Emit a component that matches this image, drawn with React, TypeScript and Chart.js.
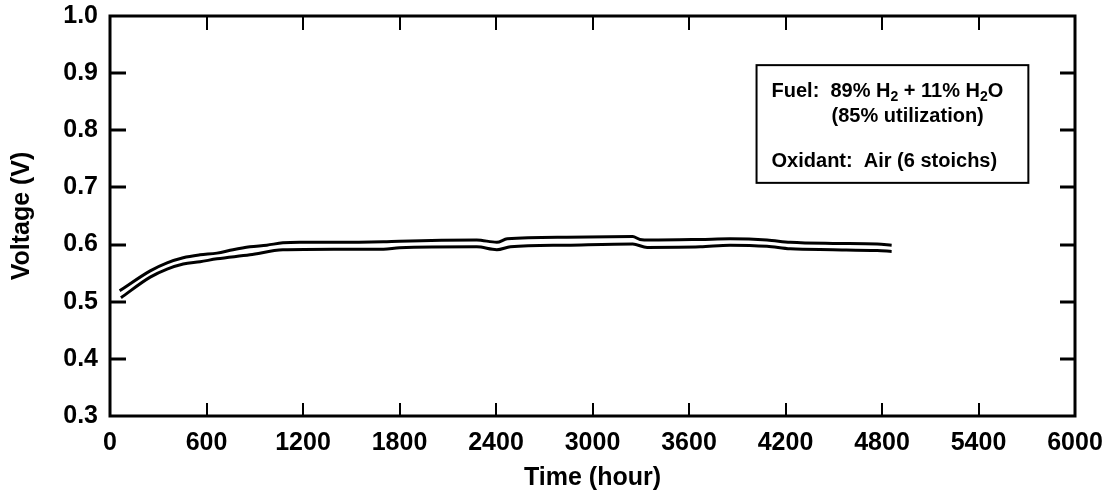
import React, { useEffect, useRef } from "react";
import { Chart, registerables } from "chart.js";

Chart.register(...registerables);

// ---- Data ----
const xTickLabels = ["0", "600", "1200", "1800", "2400", "3000", "3600", "4200", "4800", "5400", "6000"];
const yTickLabels = ["0.3", "0.4", "0.5", "0.6", "0.7", "0.8", "0.9", "1.0"];

const upperHours = [60, 250, 355, 455, 560, 665, 765, 870, 975, 1075, 1180, 1390, 1700, 1800, 2280, 2405, 2470, 2840, 3250, 3295, 3360, 3670, 3855, 4085, 4230, 4495, 4770, 4860];
const upperVolts = [0.519, 0.554, 0.568, 0.577, 0.582, 0.585, 0.591, 0.596, 0.599, 0.603, 0.604, 0.604, 0.605, 0.606, 0.608, 0.604, 0.610, 0.613, 0.614, 0.609, 0.608, 0.609, 0.610, 0.608, 0.604, 0.602, 0.601, 0.599];

const lowerHours = [68, 250, 355, 455, 560, 665, 870, 1075, 1390, 1700, 1800, 2280, 2405, 2490, 2840, 3250, 3340, 3670, 3855, 4085, 4230, 4495, 4770, 4860];
const lowerVolts = [0.507, 0.543, 0.557, 0.566, 0.570, 0.575, 0.582, 0.591, 0.592, 0.592, 0.5945, 0.596, 0.591, 0.596, 0.599, 0.601, 0.595, 0.596, 0.599, 0.597, 0.5925, 0.591, 0.5895, 0.588];

const noteLine1 = [
  { text: "Fuel:  89% H", sub: false },
  { text: "2", sub: true },
  { text: " + 11% H", sub: false },
  { text: "2", sub: true },
  { text: "O", sub: false },
];
const noteLine2 = "(85% utilization)";
const noteLine3 = "Oxidant:  Air (6 stoichs)";

// note box placement in data units
const noteBox = { x0: 4020, x1: 5710, y0: 0.914, y1: 0.708 };

const FONT = "'Liberation Sans', Arial, Helvetica, sans-serif";

const framePlugin = {
  id: "frameTicksNote",
  afterDraw(chart: any) {
    const { ctx, chartArea: a, scales } = chart;
    const xs = scales.x;
    const ys = scales.y;
    ctx.save();
    ctx.strokeStyle = "#000";
    ctx.lineCap = "butt";
    const seg = (x1: number, y1: number, x2: number, y2: number) => {
      ctx.beginPath();
      ctx.moveTo(x1, y1);
      ctx.lineTo(x2, y2);
      ctx.stroke();
    };
    // frame
    ctx.lineWidth = 3;
    ctx.strokeRect(a.left, a.top, a.right - a.left, a.bottom - a.top);
    // inward ticks
    ctx.lineWidth = 2;
    xs.ticks.forEach((t: any) => {
      if (t.value <= xs.min || t.value >= xs.max) return;
      const px = Math.round(xs.getPixelForValue(t.value));
      seg(px, a.bottom, px, a.bottom - 13);
      seg(px, a.top, px, a.top + 14);
    });
    ctx.lineWidth = 3;
    ys.ticks.forEach((t: any) => {
      if (t.value <= ys.min + 1e-9 || t.value >= ys.max - 1e-9) return;
      const py = Math.round(ys.getPixelForValue(t.value));
      seg(a.left, py, a.left + 16, py);
      seg(a.right, py, a.right - 15, py);
    });
    // note box
    const bx0 = xs.getPixelForValue(noteBox.x0);
    const bx1 = xs.getPixelForValue(noteBox.x1);
    const by0 = ys.getPixelForValue(noteBox.y0);
    const by1 = ys.getPixelForValue(noteBox.y1);
    ctx.lineWidth = 2;
    ctx.strokeRect(bx0, by0, bx1 - bx0, by1 - by0);
    ctx.fillStyle = "#000";
    ctx.textBaseline = "alphabetic";
    ctx.textAlign = "left";
    const mainFont = `bold 20px ${FONT}`;
    const subFont = `bold 14px ${FONT}`;
    let cx = bx0 + 15;
    const base1 = by0 + 32;
    noteLine1.forEach((s) => {
      ctx.font = s.sub ? subFont : mainFont;
      ctx.fillText(s.text, cx, s.sub ? base1 + 4 : base1);
      cx += ctx.measureText(s.text).width;
    });
    ctx.font = mainFont;
    ctx.fillText(noteLine2, bx0 + 75, by0 + 57);
    ctx.fillText(noteLine3, bx0 + 15, by0 + 102);
    ctx.restore();
  },
};

export default function App() {
  const canvasRef = useRef<HTMLCanvasElement | null>(null);

  useEffect(() => {
    document.body.style.margin = "0";
    const canvas = canvasRef.current;
    if (!canvas) return;
    const lineStyle = {
      borderColor: "#000",
      borderWidth: 3,
      pointRadius: 0,
      fill: false,
      cubicInterpolationMode: "monotone" as const,
    };
    const chart = new Chart(canvas, {
      type: "line",
      data: {
        datasets: [
          { label: "upper", data: upperHours.map((h, i) => ({ x: h, y: upperVolts[i] })), ...lineStyle },
          { label: "lower", data: lowerHours.map((h, i) => ({ x: h, y: lowerVolts[i] })), ...lineStyle },
        ],
      },
      options: {
        animation: false,
        responsive: false,
        devicePixelRatio: 1,
        layout: { padding: { left: 0, right: 31, top: 16, bottom: 0 } },
        plugins: { legend: { display: false }, tooltip: { enabled: false } },
        scales: {
          x: {
            type: "linear",
            min: 0,
            max: 6000,
            afterFit: (s: any) => {
              s.height = 80;
              s.paddingLeft = 0;
              s.paddingRight = 0;
            },
            afterBuildTicks: (s: any) => {
              s.ticks = xTickLabels.map((l) => ({ value: Number(l) }));
            },
            ticks: {
              autoSkip: false,
              maxRotation: 0,
              padding: 12,
              color: "#000",
              font: { family: FONT, size: 25, weight: "bold" },
              callback: (v: any) => xTickLabels.find((l) => Number(l) === v) ?? "",
            },
            grid: { display: false, drawTicks: false },
            border: { display: false },
            title: {
              display: true,
              text: "Time (hour)",
              color: "#000",
              font: { family: FONT, size: 25, weight: "bold" },
              padding: { top: 0, bottom: 3 },
            },
          },
          y: {
            type: "linear",
            min: 0.3,
            max: 1.0,
            afterFit: (s: any) => {
              s.width = 110;
              s.paddingTop = 0;
              s.paddingBottom = 0;
            },
            afterBuildTicks: (s: any) => {
              s.ticks = yTickLabels.map((l) => ({ value: Number(l) }));
            },
            ticks: {
              autoSkip: false,
              padding: 12,
              color: "#000",
              font: { family: FONT, size: 25, weight: "bold" },
              callback: (v: any) => yTickLabels.find((l) => Math.abs(Number(l) - v) < 1e-6) ?? "",
            },
            grid: { display: false, drawTicks: false },
            border: { display: false },
            title: {
              display: true,
              text: "Voltage (V)",
              color: "#000",
              font: { family: FONT, size: 25, weight: "bold" },
              padding: { top: 7, bottom: 0 },
            },
          },
        },
      },
      plugins: [framePlugin],
    });
    return () => chart.destroy();
  }, []);

  return (
    <div style={{ width: 1106, height: 496, background: "#fff" }}>
      <canvas ref={canvasRef} width={1106} height={496} style={{ display: "block" }} />
    </div>
  );
}
